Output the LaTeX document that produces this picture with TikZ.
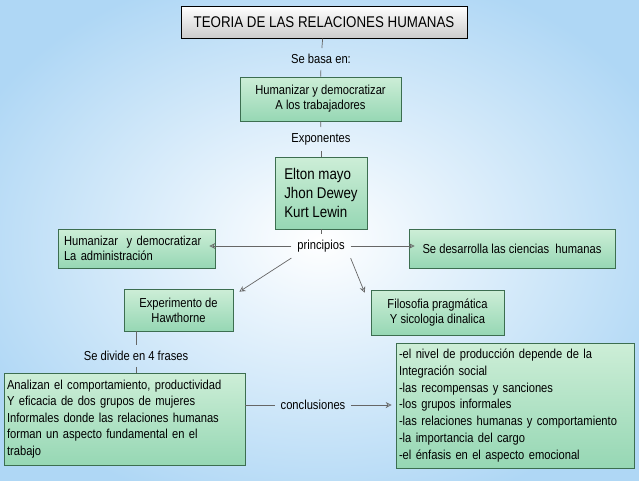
\documentclass[tikz,border=0pt]{standalone}
\usepackage{fontspec}
\setmainfont{Liberation Sans}[FakeStretch=0.86]
\usetikzlibrary{arrows.meta}
\definecolor{bxg}{RGB}{150,215,180}
\definecolor{bxl}{RGB}{205,238,215}
\definecolor{bxd}{RGB}{60,110,80}
\definecolor{bgb}{RGB}{175,215,245}
\tikzset{
 box/.style={draw=bxd,line width=0.6pt,top color=bxl,bottom color=bxg,inner sep=0pt,font=\fontsize{13}{15}\selectfont},
 lbl/.style={font=\fontsize{13}{15}\selectfont,inner sep=1pt,outer sep=5pt},
 ln/.style={draw=gray!80!black,line width=0.7pt},
 ar/.style={ln,-{Stealth[length=6pt,width=6pt,open]}},
}
\begin{document}
\begin{tikzpicture}[x=1pt,y=-1pt]
\useasboundingbox (0,0) rectangle (639,480);
\clip (0,0) rectangle (639,480);
\shade[inner color=white,outer color=bgb] (-60,-40) rectangle (699,520);
\node[draw=black,line width=0.8pt,top color=white,bottom color=gray!40,minimum width=286pt,minimum height=32pt,font=\fontsize{15.5}{17}\selectfont] (t) at (324,22) {TEORIA DE LAS RELACIONES HUMANAS};
\node[lbl] (sb) at (321,59) {Se basa en:};
\node[box,minimum width=161pt,minimum height=44pt,align=center] (h1) at (320.5,99) {Humanizar y democratizar\\A los trabajadores};
\node[lbl] (ex) at (321,139) {Exponentes};
\node[box,minimum width=92pt,minimum height=72pt,align=left,font=\fontsize{15.5}{19}\selectfont] (el) at (321,193) {Elton mayo\\Jhon Dewey\\Kurt Lewin};
\node[lbl] (pr) at (321,246) {principios};
\node[box,minimum width=157pt,minimum height=39pt,align=left,text width=145pt] (h2) at (136.5,248.5) {Humanizar \ y democratizar\\La administración};
\node[box,minimum width=206pt,minimum height=39pt] (sd) at (512,248.5) {Se desarrolla las ciencias \ humanas};
\node[box,minimum width=109pt,minimum height=42pt,align=center] (exp) at (178.5,310) {Experimento de\\Hawthorne};
\node[box,minimum width=133pt,minimum height=45pt,align=center] (fi) at (437.5,312.5) {Filosofia pragmática\\Y sicologia dinalica};
\node[lbl] (sd4) at (136,356) {Se divide en 4 frases};
\node[box,minimum width=241pt,minimum height=92pt,align=left,text width=235pt,font=\fontsize{13}{16.5}\selectfont] (an) at (124.5,419) {Analizan el comportamiento, productividad\\Y eficacia de dos grupos de mujeres\\Informales donde las relaciones humanas\\forman un aspecto fundamental en el\\trabajo};
\node[lbl] (co) at (313,405) {conclusiones};
\node[box,minimum width=238pt,minimum height=125pt,align=left,text width=232pt,font=\fontsize{13}{16.8}\selectfont] (cl) at (515,405.5) {-el nivel de producción depende de la\\Integración social\\-las recompensas y sanciones\\-los grupos informales\\-las relaciones humanas y comportamiento\\-la importancia del cargo\\-el énfasis en el aspecto emocional};
\draw[ln] (t) -- (sb);
\draw[ln] (sb) -- (h1);
\draw[ln] (h1) -- (ex);
\draw[ln] (ex) -- (el);
\draw[ln] (el) -- (pr);
\draw[ar] (pr.west) -- ([xshift=-6pt]h2.east |- pr.west);
\draw[ar] (pr.east) -- ([xshift=6pt]sd.west |- pr.east);
\draw[ar] (pr.south west) -- ([shift={(6pt,-3pt)}]exp.north east);
\draw[ar] (pr.south east) -- ([shift={(-6pt,-3pt)}]fi.north west);
\draw[ln] (exp.south -| sd4) -- (sd4);
\draw[ln] (sd4) -- (an.north -| sd4);
\draw[ln] (an.east |- co) -- (co);
\draw[ar] (co) -- ([xshift=-4pt]cl.west |- co);
\end{tikzpicture}
\end{document}
